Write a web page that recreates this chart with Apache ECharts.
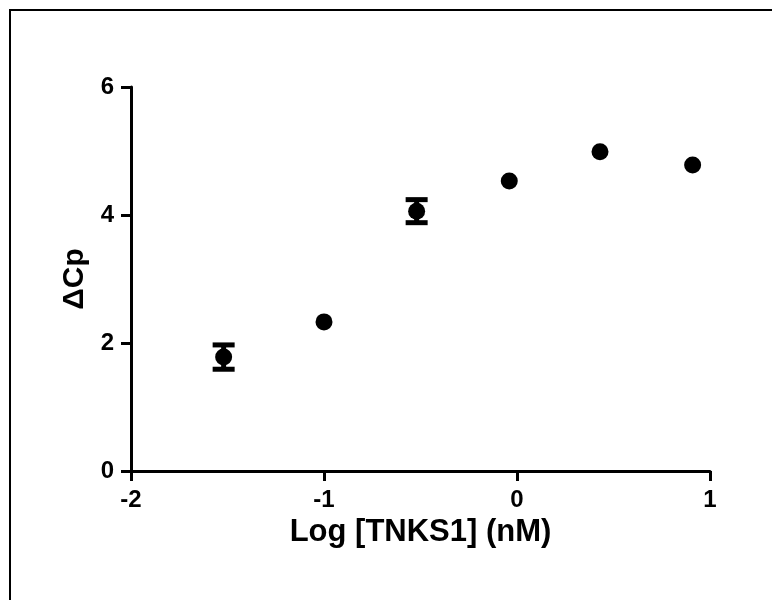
<!DOCTYPE html>
<html>
<head>
<meta charset="utf-8">
<script src="https://cdn.jsdelivr.net/npm/echarts@6/dist/echarts.min.js"></script>
<style>
  html, body { margin: 0; padding: 0; background: #fff; }
  #main { width: 772px; height: 600px; }
</style>
</head>
<body>
<div id="main"></div>
<script>
var logConc = [-1.52, -1.0, -0.52, -0.04, 0.43, 0.91];
var deltaCp = [1.78, 2.33, 4.06, 4.53, 4.99, 4.78];
var errCp = [0.19, 0, 0.18, 0, 0, 0];
var xTicks = [-2, -1, 0, 1];
var yTicks = [0, 2, 4, 6];

var dom = document.getElementById("main");
var myChart = echarts.init(dom);

var points = logConc.map(function (x, i) { return [x, deltaCp[i]]; });
var bars = logConc.map(function (x, i) {
  return [x, deltaCp[i] - errCp[i], deltaCp[i] + errCp[i]];
}).filter(function (d, i) { return errCp[i] > 0; });

var labelFont = { color: '#000', fontFamily: 'Liberation Sans', fontWeight: 'bold' };

option = {
  animation: false,
  backgroundColor: '#fff',
  grid: { left: 131, right: 62, top: 87, bottom: 129 },
  graphic: [{
    type: 'polyline',
    shape: { points: [[10, 600], [10, 10], [772, 10]] },
    style: { stroke: '#000', lineWidth: 2, fill: null }
  }],
  xAxis: {
    type: 'value',
    min: xTicks[0],
    max: xTicks[xTicks.length - 1],
    interval: 1,
    name: 'Log [TNKS1] (nM)',
    nameLocation: 'middle',
    nameGap: 36,
    nameTextStyle: Object.assign({ fontSize: 31 }, labelFont),
    axisLine: { onZero: false, lineStyle: { color: '#000', width: 3 } },
    axisTick: { length: 10, lineStyle: { color: '#000', width: 3 } },
    axisLabel: Object.assign({ fontSize: 24, margin: 17 }, labelFont),
    splitLine: { show: false }
  },
  yAxis: {
    type: 'value',
    min: yTicks[0],
    max: yTicks[yTicks.length - 1],
    interval: 2,
    name: 'ΔCp',
    nameLocation: 'middle',
    nameGap: 40,
    nameTextStyle: Object.assign({ fontSize: 30 }, labelFont),
    axisLine: { show: true, onZero: false, lineStyle: { color: '#000', width: 3 } },
    axisTick: { show: true, length: 10, lineStyle: { color: '#000', width: 3 } },
    axisLabel: Object.assign({ fontSize: 24, margin: 17 }, labelFont),
    splitLine: { show: false }
  },
  series: [
    {
      type: 'custom',
      data: bars,
      renderItem: function (params, api) {
        var x = api.value(0);
        var lo = api.coord([x, api.value(1)]);
        var hi = api.coord([x, api.value(2)]);
        var half = 11;
        var st = { stroke: '#000', lineWidth: 5 };
        return {
          type: 'group',
          children: [
            { type: 'line', shape: { x1: lo[0], y1: lo[1], x2: hi[0], y2: hi[1] }, style: st },
            { type: 'line', shape: { x1: lo[0] - half, y1: lo[1], x2: lo[0] + half, y2: lo[1] }, style: st },
            { type: 'line', shape: { x1: hi[0] - half, y1: hi[1], x2: hi[0] + half, y2: hi[1] }, style: st }
          ]
        };
      },
      z: 3
    },
    {
      type: 'scatter',
      data: points,
      symbol: 'circle',
      symbolSize: 17,
      itemStyle: { color: '#000', opacity: 1 },
      z: 4
    }
  ]
};

if (option && typeof option === 'object') {
  myChart.setOption(option);
}
</script>
</body>
</html>
